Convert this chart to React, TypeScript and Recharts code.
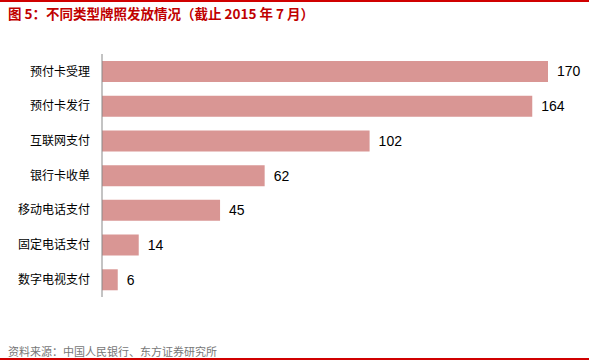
import { Bar, BarChart, LabelList, XAxis, YAxis } from 'recharts';

const categories = [
	'预付卡受理',
	'预付卡发行',
	'互联网支付',
	'银行卡收单',
	'移动电话支付',
	'固定电话支付',
	'数字电视支付',
];

const licenseCounts = [170, 164, 102, 62, 45, 14, 6];

const data = categories.map((name, i) => ({ name, value: licenseCounts[i] }));

const FONT = '"Noto Sans CJK SC", "Noto Sans", sans-serif';

const App = () => {
	return (
		<div
			style={{
				position: 'fixed',
				top: 0,
				left: 0,
				width: 589,
				height: 361,
				background: '#fff',
				fontFamily: FONT,
				overflow: 'hidden',
			}}
		>
			<div
				style={{
					position: 'absolute',
					top: 0,
					left: 0,
					width: 589,
					height: 2,
					background: '#d00000',
				}}
			/>
			<div
				style={{
					position: 'absolute',
					top: 3,
					left: 8,
					fontSize: 13.5,
					fontWeight: 'bold',
					color: '#c00000',
					whiteSpace: 'nowrap',
				}}
			>
				图 5：不同类型牌照发放情况（截止 2015 年 7 月）
			</div>
			<BarChart
				width={589}
				height={361}
				layout='vertical'
				data={data}
				margin={{ top: 54, right: 41, left: 0, bottom: 64 }}
				barSize={21}
			>
				<XAxis type='number' domain={[0, 170]} hide />
				<YAxis
					type='category'
					dataKey='name'
					width={102}
					tickLine={false}
					tickMargin={6}
					axisLine={{ stroke: '#888888' }}
					tick={{ fontSize: 12, fill: '#000', fontFamily: FONT }}
				/>
				<Bar dataKey='value' fill='#d99694' isAnimationActive={false}>
					<LabelList
						dataKey='value'
						position='right'
						offset={9}
						style={{
							fontSize: 14,
							fill: '#000',
							fontFamily: '"Liberation Sans", Arial, sans-serif',
						}}
					/>
				</Bar>
			</BarChart>
			<div
				style={{
					position: 'absolute',
					top: 343,
					left: 8,
					fontSize: 11,
					color: '#777',
					whiteSpace: 'nowrap',
				}}
			>
				资料来源：中国人民银行、东方证券研究所
			</div>
			<div
				style={{
					position: 'absolute',
					top: 358,
					left: 0,
					width: 589,
					height: 2,
					background: '#d00000',
				}}
			/>
		</div>
	);
};

export default App;
